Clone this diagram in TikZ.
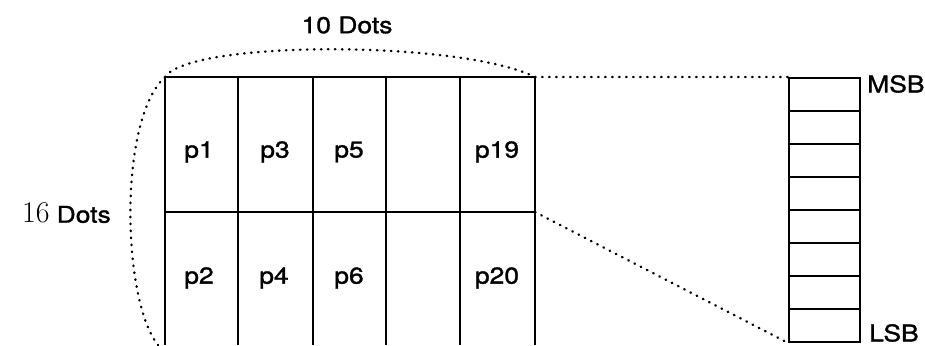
\documentclass[tikz,border=0pt]{standalone}
\usepackage{fontspec}
\setmainfont{TeX Gyre Heros}[FakeStretch=1.15,FakeBold=1.3]
\newfontfamily\serifnum{Latin Modern Roman}
\begin{document}
\begin{tikzpicture}[x=1pt,y=-1pt,
  gridline/.style={line width=2.3pt},
  dotline/.style={line width=2.4pt, dash pattern=on 0.6pt off 6.4pt, line cap=round},
  lbl/.style={font=\fontsize{23}{25}\selectfont, inner sep=0pt},
  bitcell/.style={draw, line width=1.9pt, minimum width=71pt, minimum height=33pt, inner sep=0pt}]
\useasboundingbox (0,0) rectangle (925,345);
% grid corners
\coordinate (gtl) at (165,77);
\coordinate (gtr) at (535,77);
\coordinate (gml) at (165,212);
\coordinate (gmr) at (535,212);
\coordinate (gend) at (158,345);
% grid
\foreach \x in {165,238,313,386,460,535}
  \draw[gridline] (\x,77) -- (\x,345);
\draw[gridline] (gtl) -- (gtr);
\draw[gridline] (gml) -- (gmr);
% cell labels
\node[lbl] (p1) at (199,152) {p1};
\node[lbl] (p3) at (275,152) {p3};
\node[lbl] (p5) at (349,152) {p5};
\node[lbl] (p19) at (497,152) {p19};
\node[lbl] (p2) at (199,278) {p2};
\node[lbl] (p4) at (274,278) {p4};
\node[lbl] (p6) at (349,278) {p6};
\node[lbl] (p20) at (497,278) {p20};
% bit column
\foreach \i in {0,...,7}
  \node[bitcell] (b\i) at (824.5,{78+33*\i+16.5}) {};
\node[lbl, anchor=west] (msb) at (867,84) {MSB};
\node[lbl, anchor=west] (lsb) at (869,333) {LSB};
% connectors
\draw[dotline] (gtr) -- (b0.north west);
\draw[dotline] (gmr) -- (b7.south west);
% arcs
\draw[dotline] (gtl) .. controls (190,40) and (460,40) .. (gtr);
\draw[dotline] (gtl) .. controls (118,120) and (122,300) .. (gend);
% dimension labels
\node[lbl] (tendots) at (347,25) {10 Dots};
\node[lbl, anchor=east] (sixteendots) at (111,213) {{\serifnum\fontsize{30}{32}\selectfont 16}\hspace{7pt}Dots};
\end{tikzpicture}
\end{document}
